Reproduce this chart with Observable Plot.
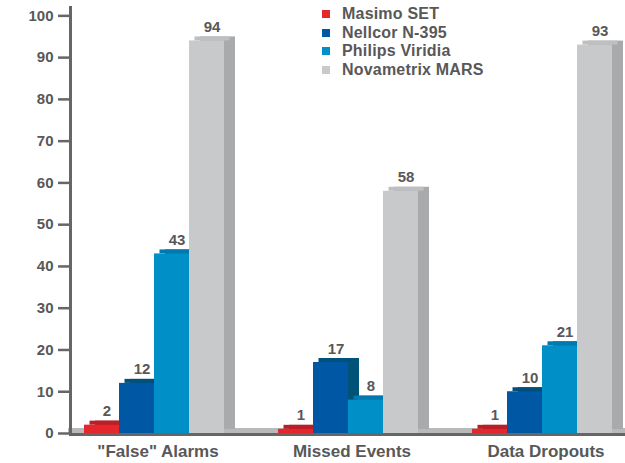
<!DOCTYPE html>
<html>
<head>
<meta charset="utf-8">
<script src="https://cdn.jsdelivr.net/npm/d3@7"></script>
<script src="https://cdn.jsdelivr.net/npm/@observablehq/plot@0.6"></script>
<style>
  body { margin: 0; background: #fff; }
  #wrap { position: relative; width: 625px; height: 463px; font-family: "Liberation Sans", Arial, sans-serif; }
  #legend { position: absolute; left: 322px; top: 5px; }
  .row { height: 18.5px; line-height: 18.5px; font-size: 16px; font-weight: bold; color: #585858; white-space: nowrap; display: flex; align-items: center; letter-spacing: 0.2px; }
  .sw { width: 8px; height: 8px; margin-right: 12px; display: inline-block; }
</style>
</head>
<body>
<div id="wrap"><div id="chart"></div><div id="legend"></div></div>
<script>
const categories = ['"False" Alarms', "Missed Events", "Data Dropouts"];
const series = ["Masimo SET", "Nellcor N-395", "Philips Viridia", "Novametrix MARS"];
const masimo = [2, 1, 1];
const nellcor = [12, 17, 10];
const philips = [43, 8, 21];
const novametrix = [94, 58, 93];
const yTicks = [0, 10, 20, 30, 40, 50, 60, 70, 80, 90, 100];

const frontColors = ["#e5262d", "#0058a4", "#008fc7", "#c8c9cb"];
const topColors = ["#b91f27", "#00507c", "#0079b0", "#bdbfc1"];
const sideColors = ["#a81c23", "#005276", "#006f9f", "#a8aaac"];

const seriesValues = [masimo, nellcor, philips, novametrix];
const data = [];
categories.forEach((c, i) => {
  series.forEach((s, j) => {
    data.push({category: c, series: s, value: seriesValues[j][i]});
  });
});

const depthX = 11, depthY = -4;

const chart = Plot.plot({
  width: 625,
  height: 463,
  marginLeft: 69,
  marginRight: 0,
  marginTop: 7,
  marginBottom: 30,
  style: {fontFamily: '"Liberation Sans", Arial, sans-serif', background: "white"},
  fx: {domain: categories, paddingInner: 0.265, paddingOuter: 0.062},
  x: {domain: series, padding: 0, axis: null},
  y: {domain: [0, 102], axis: null},
  color: {domain: series, range: frontColors},
  marks: [
    // floor slab
    Plot.frame({anchor: "bottom", facet: "super", stroke: "#b7b9bb", strokeWidth: 5, dy: -3, insetLeft: -12, insetRight: -12}),
    // side/back faces
    Plot.barY(data, {fx: "category", x: "series", y: "value", fill: d => sideColors[series.indexOf(d.series)], dx: depthX, dy: depthY}),
    // top faces
    Plot.rect(data, {fx: "category", x: "series", y1: "value", y2: "value", insetTop: depthY, dx: depthX / 2, fill: d => topColors[series.indexOf(d.series)]}),
    // front faces
    Plot.barY(data, {fx: "category", x: "series", y: "value", fill: "series"}),
    // baseline
    Plot.frame({anchor: "bottom", facet: "super", stroke: "#666", strokeWidth: 3, dy: 1, insetLeft: -12, insetRight: -12}),
    // axis line
    Plot.frame({anchor: "left", facet: "super", stroke: "#666", strokeWidth: 3, dx: -12}),
    Plot.axisY({ticks: yTicks, tickSize: 12, tickPadding: 5, dx: -12, fontSize: 15, fontWeight: "bold", fill: "#585858", stroke: "#666", strokeWidth: 2.5, label: null}),
    Plot.axisFx({anchor: "bottom", tickSize: 0, tickPadding: 11, dx: 4, fontSize: 17, fontWeight: "bold", fill: "#585858", label: null}),
    Plot.text(data, {fx: "category", x: "series", y: "value", text: "value", dx: 5, dy: -9, lineAnchor: "bottom", fontSize: 15, fontWeight: "bold", fill: "#585858"})
  ]
});
document.getElementById("chart").appendChild(chart);

const legend = d3.select("#legend");
series.forEach((s, j) => {
  const row = legend.append("div").attr("class", "row");
  row.append("span").attr("class", "sw").style("background", frontColors[j]);
  row.append("span").text(s);
});
</script>
</body>
</html>
